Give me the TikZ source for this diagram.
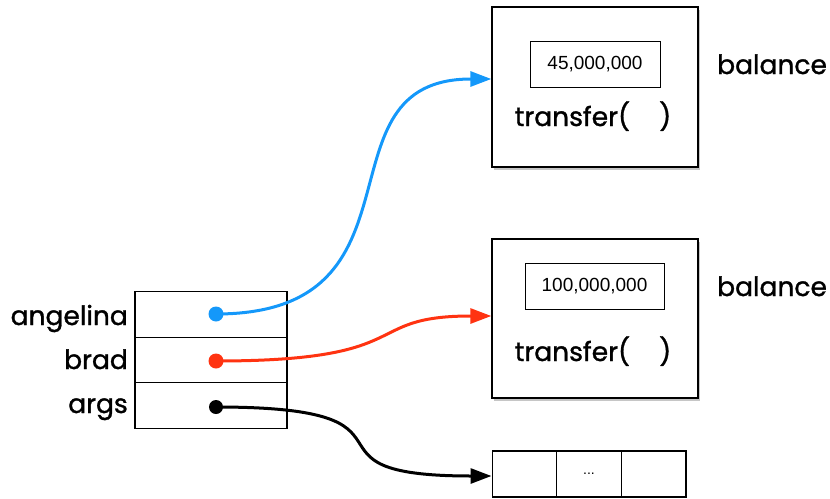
\documentclass[tikz,border=0pt]{standalone}
\usepackage{fontspec}
\newfontfamily\labelfont{Poppins}[FakeBold=1.2]
\newfontfamily\numfont{Liberation Sans}
\usetikzlibrary{arrows.meta,shadows}
\definecolor{ptrblue}{RGB}{20,152,250}
\definecolor{ptrred}{RGB}{255,51,17}
\tikzset{
  objbox/.style={draw=black, line width=1.3pt, fill=white, minimum width=206pt, inner sep=0pt,
    drop shadow={opacity=0.45, shadow xshift=2pt, shadow yshift=-3pt}},
  valbox/.style={draw=black, line width=1pt, fill=white, inner sep=0pt, minimum height=46pt,
    font=\numfont\fontsize{19}{22}\selectfont},
  cell/.style={draw=black, line width=1.3pt, fill=white, inner sep=0pt, minimum width=152pt, minimum height=45.5pt},
  acell/.style={draw=black, line width=1.3pt, fill=white, inner sep=0pt, minimum width=64.7pt, minimum height=46pt},
  bigtext/.style={font=\labelfont\fontsize{26.5}{30}\selectfont, inner sep=0pt},
  dot/.style={circle, inner sep=0pt, minimum size=14pt},
  ptr/.style={line width=3pt, -{Triangle[length=21pt,width=15pt]}}
}
\begin{document}
\begin{tikzpicture}[x=1pt,y=-1pt]
\useasboundingbox (0,0) rectangle (830,498);
% objects
\node[objbox, minimum height=160pt] (box1) at (595,87) {};
\node[valbox, minimum width=130pt] (v1) at (595,64) {45,000,000};
\node[bigtext, anchor=base] (t1) at (593,126) {transfer(\hspace{1.1em})};
\node[bigtext, anchor=base west] (b1) at (717,74) {balance};
\node[objbox, minimum height=159pt] (box2) at (595,318.5) {};
\node[valbox, minimum width=139pt] (v2) at (594.5,286) {100,000,000};
\node[bigtext, anchor=base] (t2) at (593,361) {transfer(\hspace{1.1em})};
\node[bigtext, anchor=base west] (b2) at (717,296) {balance};
% array
\begin{scope}[drop shadow={opacity=0.45, shadow xshift=2pt, shadow yshift=-3pt}]
\path[fill=white] (492,451) rectangle (686,497);
\end{scope}
\node[acell] (a1) at (524.5,474) {};
\node[acell] (a2) at (589,474) {\numfont\fontsize{14}{16}\selectfont ...};
\node[acell] (a3) at (653.5,474) {};
% stack frame
\begin{scope}[drop shadow={opacity=0.45, shadow xshift=2pt, shadow yshift=-3pt}]
\path[fill=white] (135,292) rectangle (287,428);
\end{scope}
\node[cell] (c1) at (211,314.5) {};
\node[cell] (c2) at (211,360) {};
\node[cell] (c3) at (211,405.5) {};
\node[bigtext, anchor=base east] (l1) at (128,325) {angelina};
\node[bigtext, anchor=base east] (l2) at (128,369) {brad};
\node[bigtext, anchor=base east] (l3) at (128,413) {args};
\node[dot] (d1) at (216,314) {};
\node[dot] (d2) at (216,361) {};
\node[dot] (d3) at (216,407) {};
% pointers
\draw[ptr, ptrblue] (d1.center) .. controls +(220,0) and +(-180,0) .. ([yshift=8pt]box1.west);
\draw[ptr, ptrred] (d2.center) .. controls +(204,0) and +(-132,0) .. ([yshift=2.5pt]box2.west);
\draw[ptr, black] (d3.center) .. controls +(230,0) and +(-211,0) .. ([yshift=-2pt]a1.west);
\fill[ptrblue] (d1) circle (7.5pt);
\fill[ptrred] (d2) circle (7.5pt);
\fill[black] (d3) circle (7pt);
\end{tikzpicture}
\end{document}
